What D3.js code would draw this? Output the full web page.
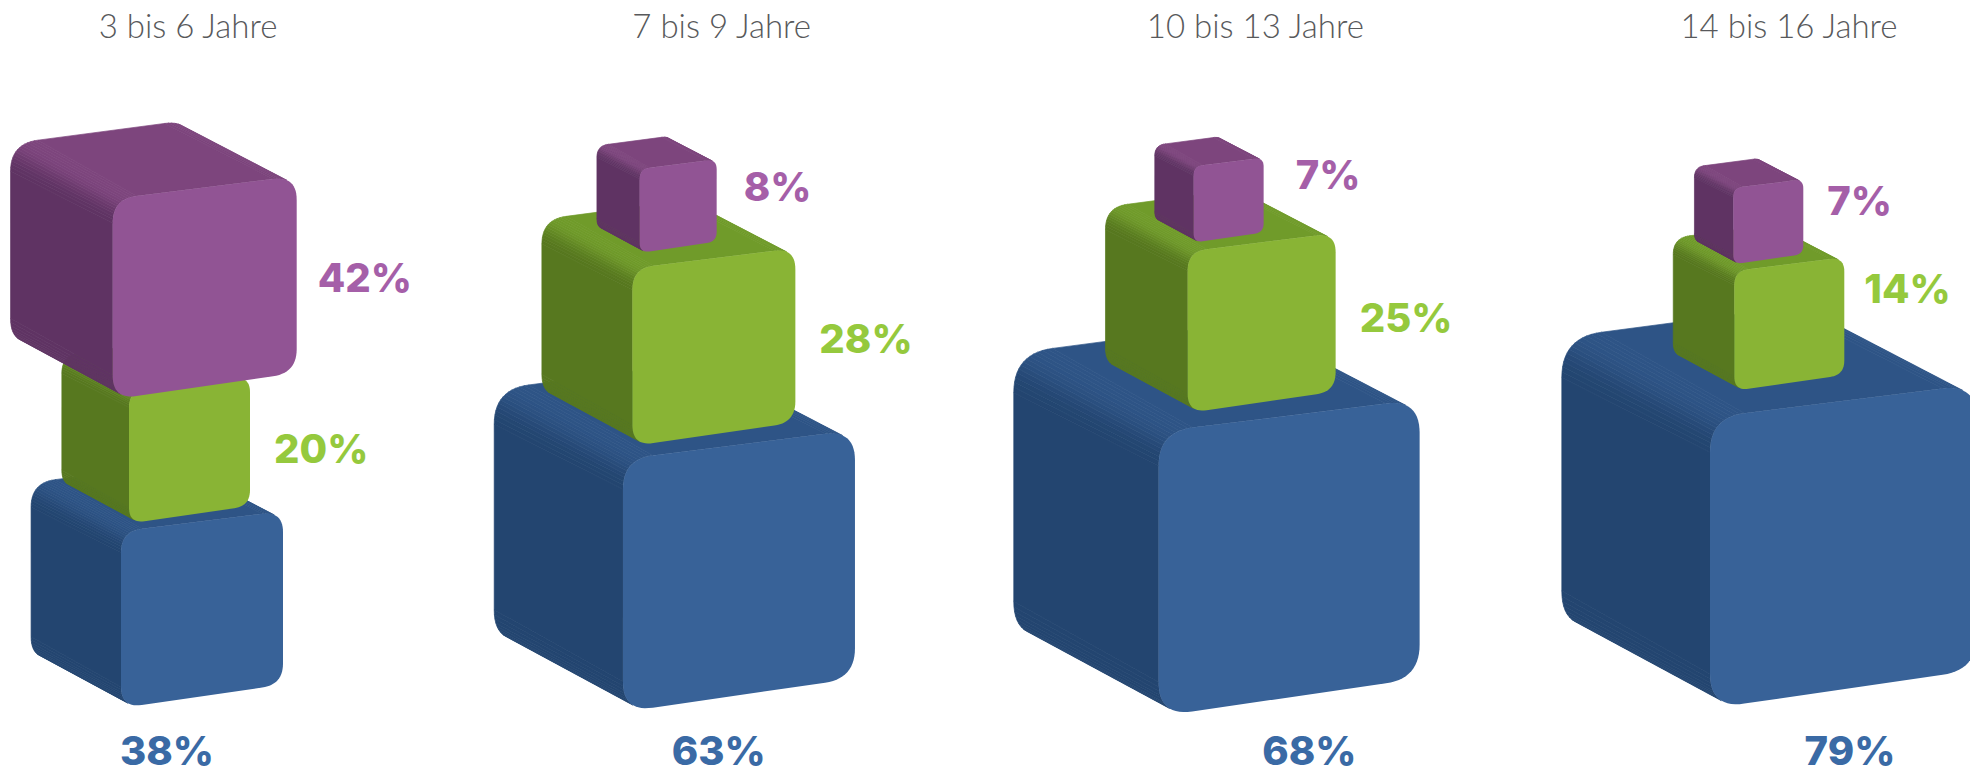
<!DOCTYPE html>
<html><head><meta charset="utf-8">
<script src="https://cdn.jsdelivr.net/npm/d3@7/dist/d3.min.js"></script>
<style>html,body{margin:0;background:#fff;overflow:hidden}</style>
</head><body><svg id="chart" width="1970" height="770"></svg>
<script>
const ageGroups = ["3 bis 6 Jahre","7 bis 9 Jahre","10 bis 13 Jahre","14 bis 16 Jahre"];
const blueValues = [38,63,68,79];
const greenValues = [20,28,25,14];
const purpleValues = [42,8,7,7];

// Hand-placed layout of the infographic (not data)
const floorY = [708,712,716.3,708.6];
const blueShift = [-67,-98.7,-96.7,-79];
const greenShift = [-59,-89.3,-67.7,-54.7];
const purpleShift = [-75.3,-82,-61.7,-55.7];
const greenSink = [-8,-13,-18.9,-26.7];
const purpleSink = [8,-15.6,-9,-6.7];
const greenLabelDrop = [87,105,98.7,46];
const purpleLabelDrop = [116,42,31.4,36];
const greenLabelGap = [24,24,24,20];
const purpleLabelGap = [21,27,32,24];
const bottomLabelShift = [-21,-3,54,61];

const sizeDomain = [7,8,14,20,25,28,38,42,63,68,79];
const sizeRange  = [70,77,110,121,148,163,162,184,232,261,267];
const size = d3.scaleLinear().domain(sizeDomain).range(sizeRange);
const column = d3.scalePoint().domain(ageGroups).range([188,1789]);

const palette = {
  blue:  {front:"#386298", side:"#234570", top:"#2E5486", label:"#3A6AA5"},
  green: {front:"#89B435", side:"#57781F", top:"#709B2A", label:"#95C93D"},
  purple:{front:"#915494", side:"#5F3363", top:"#7D457D", label:"#A55FA8"}
};

const svg = d3.select("#chart");
const line = d3.line().curve(d3.curveLinearClosed);
const H = 1.09;

function outline(q, r, n) {
  const pts = [];
  for (let i = 0; i < 4; i++) {
    const p0 = q[(i+3)%4], c = q[i], p1 = q[(i+1)%4];
    const d0 = Math.hypot(p0[0]-c[0],p0[1]-c[1]), d1 = Math.hypot(p1[0]-c[0],p1[1]-c[1]);
    const a = [c[0]+(p0[0]-c[0])*r/d0, c[1]+(p0[1]-c[1])*r/d0];
    const b = [c[0]+(p1[0]-c[0])*r/d1, c[1]+(p1[1]-c[1])*r/d1];
    for (let k = 0; k <= n; k++) {
      const t = k/n, u = 1-t;
      pts.push([u*u*a[0]+2*u*t*c[0]+t*t*b[0], u*u*a[1]+2*u*t*c[1]+t*t*b[1]]);
    }
  }
  return pts;
}

function drawCube(g, x, y, w, col) {
  const front = [[x,y],[x+w,y-0.125*w],[x+w,y+(H-0.145)*w],[x,y+H*w]];
  const bx = x-0.555*w, by = y-0.30*w;
  const back = [[bx,by],[x+0.43*w,y-0.43*w],[x+0.43*w,y+0.62*w],[bx,by+1.10*w]];
  const f = outline(front, 0.13*w, 14), b = outline(back, 0.15*w, 14);
  const mix = d3.interpolateRgb(col.side, col.top);
  const quads = [];
  for (let i = 0; i < f.length; i++) {
    const j = (i+1)%f.length;
    const ex = f[j][0]-f[i][0], ey = f[j][1]-f[i][1];
    const len = Math.hypot(ex,ey); if (len < 1e-6) continue;
    const nx = ey/len, ny = -ex/len;
    const dx = b[i][0]-f[i][0], dy = b[i][1]-f[i][1];
    if (nx*dx+ny*dy <= 0) continue;
    const up = Math.max(0, -ny), tone = up*up*(3-2*up);
    quads.push({pts:[f[i],f[j],b[j],b[i]], fill:mix(ny > 0.3 ? 0 : tone)});
  }
  g.append("g").selectAll("path").data(quads).join("path")
    .attr("d", d => line(d.pts)).attr("fill", d => d.fill)
    .attr("stroke", d => d.fill).attr("stroke-width", 0.7);
  g.append("path").attr("d", line(f)).attr("fill", col.front);
}

function addLabel(x, y, txt, color, anchor) {
  svg.append("text").attr("x",x).attr("y",y).text(txt)
    .attr("fill",color).attr("text-anchor",anchor||"start")
    .style("font-family","Inter, sans-serif").style("font-weight",800).style("font-size","40px");
}

ageGroups.forEach((name, i) => {
  const cx = column(name);
  svg.append("text").attr("x",cx).attr("y",38).attr("text-anchor","middle").text(name)
    .attr("fill","#58595B")
    .style("font-family","Lato, sans-serif").style("font-weight",300).style("font-size","33px");

  const g = svg.append("g");
  const wB = size(blueValues[i]), wG = size(greenValues[i]), wP = size(purpleValues[i]);
  const topB = floorY[i]-H*wB;
  const topG = topB+greenSink[i]-H*wG;
  const topP = topG+purpleSink[i]-H*wP;
  const xB = cx+blueShift[i], xG = cx+greenShift[i], xP = cx+purpleShift[i];
  drawCube(g, xB, topB, wB, palette.blue);
  drawCube(g, xG, topG, wG, palette.green);
  drawCube(g, xP, topP, wP, palette.purple);

  addLabel(xP+wP+purpleLabelGap[i], topP-0.125*wP+purpleLabelDrop[i], purpleValues[i]+"%", palette.purple.label);
  addLabel(xG+wG+greenLabelGap[i], topG-0.125*wG+greenLabelDrop[i], greenValues[i]+"%", palette.green.label);
  addLabel(cx+bottomLabelShift[i], 765, blueValues[i]+"%", palette.blue.label, "middle");
});
</script></body></html>
